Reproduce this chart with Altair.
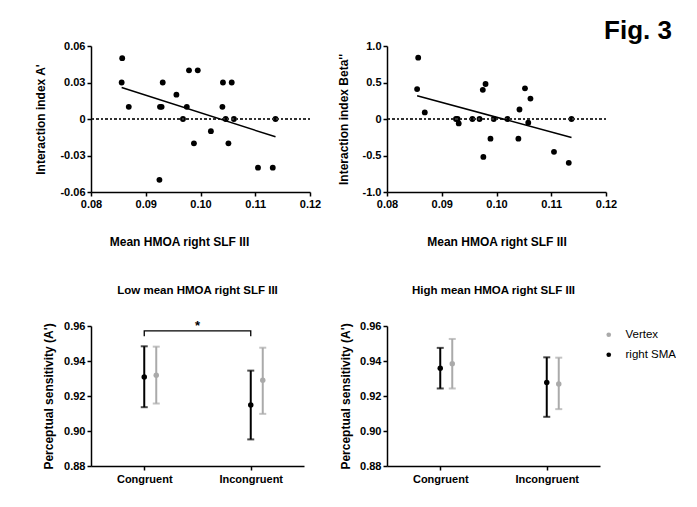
import altair as alt
import pandas as pd

# ---- top scatter data ----
a_x = [0.0857, 0.0856, 0.0869, 0.0931, 0.0926, 0.0929, 0.0925, 0.0956, 0.0975, 0.0968, 0.0979, 0.0995,
       0.0988, 0.1019, 0.1041, 0.1040, 0.1046, 0.1051, 0.1057, 0.1061, 0.1105, 0.1132, 0.1137]
a_y = [0.05, 0.03, 0.01, 0.03, 0.01, 0.01, -0.05, 0.02, 0.01, 0.0, 0.04, 0.04,
       -0.02, -0.01, 0.03, 0.01, 0.0, -0.02, 0.03, 0.0, -0.04, -0.04, 0.0]

b_x = [0.0857, 0.0855, 0.0869, 0.0926, 0.0929, 0.0931, 0.0956, 0.0969, 0.0975, 0.0980, 0.0976,
       0.0989, 0.0995, 0.1020, 0.1040, 0.1042, 0.1052, 0.1062, 0.1058, 0.1105, 0.1132, 0.1137]
b_y = [0.84, 0.41, 0.09, 0.0, 0.0, -0.06, 0.0, 0.0, 0.40, 0.48, -0.52,
       -0.27, 0.0, 0.0, -0.27, 0.13, 0.42, 0.28, -0.05, -0.45, -0.60, 0.0]

x_ticks = [0.08, 0.09, 0.10, 0.11, 0.12]
a_ticks = [-0.06, -0.03, 0.0, 0.03, 0.06]
b_ticks = [-1.0, -0.5, 0.0, 0.5, 1.0]

# ---- bottom data ----
categories = ["Congruent", "Incongruent"]
series_names = ["Vertex", "right SMA"]
low_sma_mean = [0.9309, 0.9148]
low_sma_lo = [0.9136, 0.8952]
low_sma_hi = [0.9484, 0.9345]
low_vtx_mean = [0.9319, 0.9290]
low_vtx_lo = [0.9157, 0.9098]
low_vtx_hi = [0.9482, 0.9476]
high_sma_mean = [0.9359, 0.9277]
high_sma_lo = [0.9243, 0.9081]
high_sma_hi = [0.9475, 0.9421]
high_vtx_mean = [0.9385, 0.9269]
high_vtx_lo = [0.9243, 0.9125]
high_vtx_hi = [0.9526, 0.9419]
bottom_ticks = [0.88, 0.90, 0.92, 0.94, 0.96]
bracket_top = 0.9572
bracket_end = 0.9541
star_y = 0.9600

GRAY = "#aaaaaa"
FONT = "Liberation Sans"
TW, TH = 219, 146
BW, BH = 213, 140
GOFF = 12


def fmt_expr(d):
    return "datum.value == 0 ? '0' : replace(format(datum.value, '.%df'), '\u2212', '-')" % d


def scatter(xs, ys, ticks, dec, ytitle, fig=False, ytpad=10, xtitle_x=None):
    df = pd.DataFrame({"x": xs, "y": ys})
    base = alt.Chart(df)
    xax = dict(values=x_ticks, tickCount=len(x_ticks), format=".2f", title="Mean HMOA right SLF III",
               titlePadding=27, labelOverlap=False, labelFlush=False)
    if xtitle_x is not None:
        xax["titleX"] = xtitle_x
    xenc = alt.X("x:Q", scale=alt.Scale(domain=[0.08, 0.12], nice=False), axis=alt.Axis(**xax))
    yenc = alt.Y("y:Q", scale=alt.Scale(domain=[ticks[0], ticks[-1]], nice=False),
                 axis=alt.Axis(values=ticks, tickCount=len(ticks), labelExpr=fmt_expr(dec), title=ytitle,
                               titlePadding=ytpad, labelOverlap=False, labelFlush=False))
    zero = base.mark_rule(color="#333333", strokeDash=[2, 2.5], strokeWidth=1.5).encode(
        y=alt.datum(0))
    pts = base.mark_circle(color="black", size=34, opacity=1).encode(x=xenc, y=yenc)
    reg = base.transform_regression("x", "y").mark_line(color="black", strokeWidth=1.5).encode(
        x="x:Q", y="y:Q")
    layers = [pts, zero, reg]
    if fig:
        figdf = pd.DataFrame({"t": ["Fig. 3"]})
        txt = alt.Chart(figdf).mark_text(align="right", baseline="alphabetic", fontSize=26,
                                         fontWeight="bold", font=FONT, color="black").encode(
            text="t:N", x=alt.value(285), y=alt.value(-7))
        layers.append(txt)
    return alt.layer(*layers).properties(width=TW, height=TH)


def bottom(sma_mean, sma_lo, sma_hi, vtx_mean, vtx_lo, vtx_hi, title, legend=False, bracket=False,
           tpad=5):
    df = pd.DataFrame({
        "cat": categories * 2,
        "series": ["right SMA"] * 2 + ["Vertex"] * 2,
        "mean": sma_mean + vtx_mean,
        "lo": sma_lo + vtx_lo,
        "hi": sma_hi + vtx_hi,
    })
    xenc = alt.X("cat:N", sort=categories, scale=alt.Scale(type="point", padding=0.5),
                 axis=alt.Axis(title=None, labelAngle=0, labelPadding=3))
    yax = alt.Axis(values=bottom_ticks, tickCount=len(bottom_ticks), format=".2f",
                   title="Perceptual sensitivity (A')", titlePadding=tpad,
                   labelOverlap=False, labelFlush=False)
    yscale = alt.Scale(domain=[0.88, 0.96], nice=False)
    if legend:
        col = alt.Color("series:N", scale=alt.Scale(domain=series_names, range=[GRAY, "black"]),
                        legend=alt.Legend(title=None, orient="none", legendX=BW + 3, legendY=3,
                                          symbolSize=22, symbolType="circle", labelFontSize=11.5,
                                          labelFontWeight="normal", labelFont=FONT, labelColor="black",
                                          rowPadding=7, labelOffset=11, padding=0, symbolStrokeWidth=0))
    layers = []
    for s, c, off in [("right SMA", "black", 0), ("Vertex", GRAY, GOFF)]:
        b = alt.Chart(df).transform_filter(alt.datum.series == s)
        layers.append(b.mark_rule(color=c, strokeWidth=2, xOffset=off).encode(
            x=xenc, y=alt.Y("lo:Q", scale=yscale, axis=yax), y2="hi:Q"))
        for f in ["lo", "hi"]:
            layers.append(b.mark_tick(color=c, size=7, thickness=2, orient="horizontal",
                                      xOffset=off).encode(x=xenc, y=alt.Y(f + ":Q")))
        if legend:
            layers.append(b.mark_circle(size=30, opacity=1, xOffset=off).encode(
                x=xenc, y="mean:Q", color=col))
        else:
            layers.append(b.mark_circle(size=30, opacity=1, color=c, xOffset=off).encode(
                x=xenc, y="mean:Q"))
    if bracket:
        bdf = pd.DataFrame({
            "cat": [categories[0], categories[0], categories[1], categories[1]],
            "v": [bracket_end, bracket_top, bracket_top, bracket_end],
            "o": [0, 1, 2, 3],
        })
        layers.append(alt.Chart(bdf).mark_line(color="black", strokeWidth=1.3).encode(
            x=xenc, y="v:Q", order="o:Q"))
        sdf = pd.DataFrame({"t": ["*"], "v": [star_y]})
        layers.append(alt.Chart(sdf).mark_text(fontSize=13, fontWeight="bold", font=FONT,
                                               color="black", baseline="middle").encode(
            text="t:N", x=alt.value(BW / 2), y="v:Q"))
    return alt.layer(*layers).properties(
        width=BW, height=BH,
        title=alt.TitleParams(title, fontSize=11.5, fontWeight="bold", font=FONT, color="black", offset=24))


A = scatter(a_x, a_y, a_ticks, 2, "Interaction index A'", ytpad=12, xtitle_x=88)
B = scatter(b_x, b_y, b_ticks, 1, "Interaction index Beta''", fig=True, ytpad=12)
C = bottom(low_sma_mean, low_sma_lo, low_sma_hi, low_vtx_mean, low_vtx_lo, low_vtx_hi,
           "Low mean HMOA right SLF III", bracket=True, tpad=8)
D = bottom(high_sma_mean, high_sma_lo, high_sma_hi, high_vtx_mean, high_vtx_lo, high_vtx_hi,
           "High mean HMOA right SLF III", legend=True, tpad=7)

chart = alt.concat(A, B, C, D, columns=2, spacing={"row": 134, "column": 77}, bounds="flush").resolve_legend(
    color="independent").properties(
    padding={"left": 26, "top": 10, "right": 0, "bottom": 6},
    background="white",
).configure_view(stroke=None).configure_axis(
    domainColor="black", domainWidth=1.5, tickColor="black", tickWidth=1.5, tickSize=4,
    labelFont=FONT, labelFontWeight="bold", labelFontSize=11, labelColor="black",
    titleFont=FONT, titleFontWeight="bold", titleFontSize=12, titleColor="black", grid=False,
    labelOverlap=False, labelFlush=False,
)

chart.save("out.html", embed_options={"renderer": "svg", "actions": False})
